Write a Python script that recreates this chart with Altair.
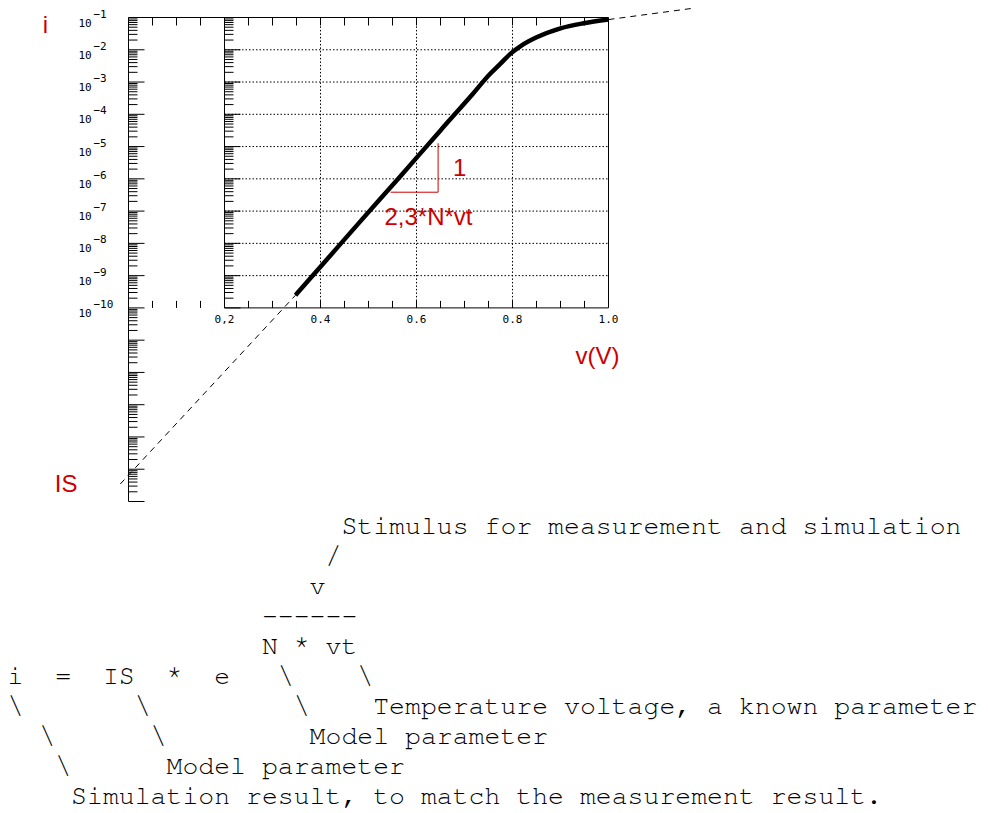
import altair as alt
import pandas as pd

# ---------------- values ----------------
# measured / simulated diode curve  (v in V, i in A)
curve_v = [0.348, 0.400, 0.483, 0.567, 0.650, 0.713, 0.754, 0.775, 0.796, 0.817,
           0.848, 0.900, 0.948, 1.000]
curve_i = [2.48e-10, 1.88e-9, 4.80e-8, 1.23e-6, 3.17e-5, 3.61e-4, 1.83e-3, 3.72e-3,
           7.60e-3, 1.30e-2, 2.34e-2, 4.61e-2, 6.61e-2, 8.63e-2]

# dashed extrapolations
ext_hi_v = [1.000, 1.177]
ext_hi_i = [8.63e-2, 1.94e-1]
ext_lo_v = [0.348, -0.017]
ext_lo_i = [2.48e-10, 3.5e-16]

# slope triangle (red)
tri_x1 = [0.645, 0.546]
tri_x2 = [0.645, 0.645]
tri_y1 = [1.27e-5, 3.85e-7]
tri_y2 = [3.85e-7, 3.85e-7]

# frame pieces: outer left axis, top line, inner box left / right / bottom
frame_x1 = [0.0, 0.0, 0.2, 1.0, 0.2]
frame_x2 = [0.0, 1.0, 0.2, 1.0, 1.0]
frame_y1 = [1e-1, 1e-1, 1e-10, 1e-10, 1e-10]
frame_y2 = [1e-16, 1e-1, 1e-1, 1e-1, 1e-10]

# tick values
decade_exp = list(range(-16, 0))                 # 1e-16 .. 1e-1
minor_mult = [2, 3, 4, 5, 6, 7, 8, 9]
x_tick_vals = [0.05, 0.10, 0.15, 0.25, 0.30, 0.35, 0.40, 0.45, 0.50, 0.55,
               0.60, 0.65, 0.70, 0.75, 0.80, 0.85, 0.90, 0.95]
x_grid_vals = [0.4, 0.6, 0.8]
y_grid_exp = list(range(-9, -1))                  # 1e-9 .. 1e-2
x_label_vals = [0.2, 0.4, 0.6, 0.8, 1.0]
x_label_text = ["0,2", "0.4", "0.6", "0.8", "1.0"]
y_label_exp = list(range(-1, -11, -1))            # labelled decades

# red annotations
ann_text = ["i", "IS", "1", "2,3*N*vt", "v(V)"]
ann_v = [-0.173, -0.130, 0.690, 0.625, 0.977]
ann_i = [3.26e-2, 1.95e-16, 1.21e-6, 3.66e-8, 1.8e-12]

# ASCII explanation block
ascii_lines = [
    "                     Stimulus for measurement and simulation",
    "                    /",
    "                   v",
    "                ------",
    "                N * vt",
    "i  =  IS  *  e   \\    \\",
    "\\       \\         \\    Temperature voltage, a known parameter",
    "  \\      \\         Model parameter",
    "   \\      Model parameter",
    "    Simulation result, to match the measurement result.",
]

# ---------------- helpers ----------------
RED = "#cc0000"
MONO_FONT = "Nimbus Mono PS, FreeMono, Liberation Mono, monospace"
MONO_SIZE = 26.5
CHAR_W = 0.6 * MONO_SIZE
xs = alt.Scale(domain=[0.0, 1.0], nice=False, zero=False)
ys = alt.Scale(type="log", domain=[1e-16, 1e-1], nice=False)


def X(f):
    return alt.X(f, type="quantitative", scale=xs, axis=None)


def Y(f):
    return alt.Y(f, type="quantitative", scale=ys, axis=None)


decades = [10.0 ** e for e in decade_exp]
minors = [m * 10.0 ** e for e in decade_exp[:-1] for m in minor_mult]
inner_dec = [d for d in decades if d >= 1e-10]
inner_min = [d for d in minors if d >= 1e-10]

major_df = pd.DataFrame({"pos": [0.0] * len(decades) + [0.2] * len(inner_dec),
                         "val": decades + inner_dec})
minor_df = pd.DataFrame({"pos": [0.0] * len(minors) + [0.2] * len(inner_min),
                         "val": minors + inner_min})

frame_df = pd.DataFrame({"x1": frame_x1, "x2": frame_x2, "y1": frame_y1, "y2": frame_y2})

grid_df = pd.DataFrame({
    "x1": [0.2] * len(y_grid_exp) + x_grid_vals,
    "x2": [1.0] * len(y_grid_exp) + x_grid_vals,
    "y1": [10.0 ** e for e in y_grid_exp] + [1e-10] * len(x_grid_vals),
    "y2": [10.0 ** e for e in y_grid_exp] + [1e-1] * len(x_grid_vals),
})

top_ticks = pd.DataFrame({"v": x_tick_vals, "y": [1e-1] * len(x_tick_vals)})
bot_ticks = pd.DataFrame({"v": x_tick_vals, "y": [1e-10] * len(x_tick_vals)})

curve_df = pd.DataFrame({"v": curve_v, "i": curve_i})
ext_df = pd.DataFrame({"v": ext_hi_v + ext_lo_v, "i": ext_hi_i + ext_lo_i,
                       "seg": ["hi"] * len(ext_hi_v) + ["lo"] * len(ext_lo_v)})
tri_df = pd.DataFrame({"x1": tri_x1, "x2": tri_x2, "y1": tri_y1, "y2": tri_y2})

xlab_df = pd.DataFrame({"v": x_label_vals, "y": [1e-10] * len(x_label_vals), "t": x_label_text})
ylab_df = pd.DataFrame({"pos": [0.0] * len(y_label_exp),
                        "val": [10.0 ** e for e in y_label_exp],
                        "base": ["10"] * len(y_label_exp),
                        "exp": ["\u2212" + str(-e) for e in y_label_exp]})
ann_df = pd.DataFrame({"v": ann_v, "i": ann_i, "t": ann_text})

layers = []

# frame
layers.append(alt.Chart(frame_df).mark_rule(color="black", strokeWidth=1).encode(
    x=X("x1"), x2="x2", y=Y("y1"), y2="y2"))
# dotted grid
layers.append(alt.Chart(grid_df).mark_rule(color="black", strokeWidth=1, strokeDash=[1.5, 2]).encode(
    x=X("x1"), x2="x2", y=Y("y1"), y2="y2"))
# y ticks (pointing right)
layers.append(alt.Chart(major_df).mark_rule(color="black", strokeWidth=1, x2Offset=16).encode(
    x=X("pos"), x2="pos", y=Y("val")))
layers.append(alt.Chart(minor_df).mark_rule(color="black", strokeWidth=1, x2Offset=9).encode(
    x=X("pos"), x2="pos", y=Y("val")))
# x ticks: top pointing down, bottom pointing up
layers.append(alt.Chart(top_ticks).mark_rule(color="black", strokeWidth=1, y2Offset=8).encode(
    x=X("v"), y=Y("y"), y2="y"))
layers.append(alt.Chart(bot_ticks).mark_rule(color="black", strokeWidth=1, y2Offset=-7).encode(
    x=X("v"), y=Y("y"), y2="y"))
# tick labels
layers.append(alt.Chart(xlab_df).mark_text(font="DejaVu Sans Mono", fontSize=11, align="center",
                                           baseline="middle", dy=12, color="black").encode(
    x=X("v"), y=Y("y"), text="t:N"))
layers.append(alt.Chart(ylab_df).mark_text(font="DejaVu Sans Mono", fontSize=11, align="left",
                                           baseline="middle", dx=-50, dy=6, color="black").encode(
    x=X("pos"), y=Y("val"), text="base:N"))
layers.append(alt.Chart(ylab_df).mark_text(font="DejaVu Sans Mono", fontSize=11, align="left",
                                           baseline="middle", dx=-35, dy=-3, color="black").encode(
    x=X("pos"), y=Y("val"), text="exp:N"))
# dashed extrapolations
layers.append(alt.Chart(ext_df).mark_line(color="black", strokeWidth=1, strokeDash=[6, 5]).encode(
    x=X("v"), y=Y("i"), detail="seg:N"))
# main curve
layers.append(alt.Chart(curve_df).mark_line(color="black", strokeWidth=4.5, interpolate="monotone",
                                            strokeCap="butt").encode(
    x=X("v"), y=Y("i")))
# red slope triangle
layers.append(alt.Chart(tri_df).mark_rule(color=RED, strokeWidth=1).encode(
    x=X("x1"), x2="x2", y=Y("y1"), y2="y2"))
# red annotations
layers.append(alt.Chart(ann_df).mark_text(font="Liberation Sans", fontSize=24, align="center",
                                          baseline="alphabetic", color=RED).encode(
    x=X("v"), y=Y("i"), text="t:N"))

# ASCII block (pixel layout below the plot), monospace column grid
NBSP = "\u00a0"
for k, line in enumerate(ascii_lines):
    body = line.lstrip(" ")
    lead = len(line) - len(body)
    df = pd.DataFrame({"t": [body.replace(" ", NBSP)]})
    layers.append(alt.Chart(df).mark_text(font=MONO_FONT, fontSize=MONO_SIZE, align="left",
                                          baseline="alphabetic", color="black").encode(
        x=alt.value(-121 + lead * CHAR_W), y=alt.value(516.5 + 30.05 * k), text="t:N"))

chart = alt.layer(*layers).properties(
    width=480, height=484,
    autosize=alt.AutoSizeParams(type="none"),
    padding={"left": 120.5, "top": 9.5, "right": 371.5, "bottom": 311.5},
    background="white",
).configure_view(stroke=None)

chart.save("out.html", embed_options={"renderer": "svg", "actions": False})
